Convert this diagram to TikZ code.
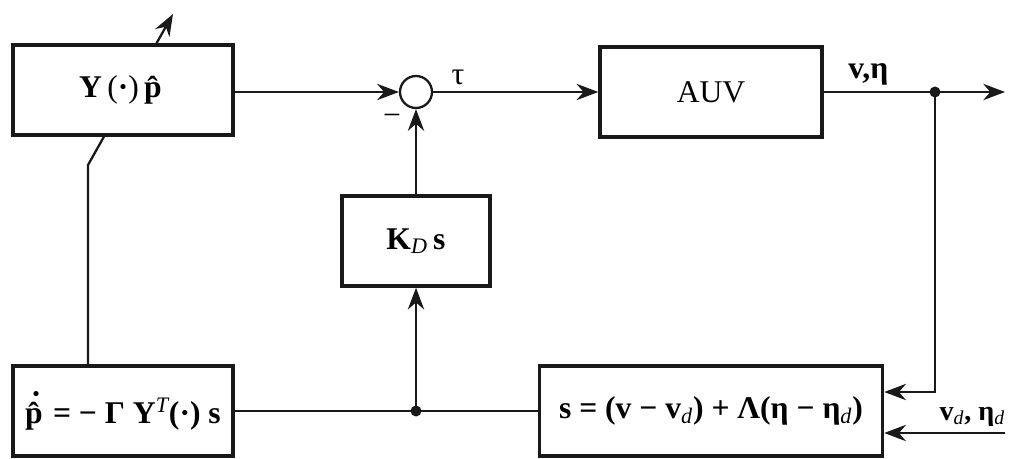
\documentclass[tikz,border=0pt]{standalone}
\usepackage{fontspec}
\setmainfont{Liberation Serif}
\usetikzlibrary{arrows.meta, positioning}
\definecolor{tinta}{RGB}{25,25,25}
\newcommand{\pDotHat}{\textbf{p̂}\llap{\raisebox{0.58em}{\textbf{·}}\hspace{0.2em}}}

\begin{document}
\begin{tikzpicture}[
    x=0.02cm, y=-0.02cm,
    bloco/.style={draw=tinta, fill=white, line width=2pt, minimum height=1.8cm, align=center, font=\fontsize{18}{21}\selectfont},
    soma/.style={draw=tinta, circle, line width=1.3pt, minimum size=0.64cm, inner sep=0pt},
    seta/.style={line width=1.3pt, -{Stealth[scale=1.4]}, draw=tinta},
    linha/.style={line width=1.3pt, draw=tinta},
    rotulo/.style={font=\fontsize{18}{21}\selectfont}
]
    \useasboundingbox (0,0) rectangle (1010,459);

    % Blocos
    \node[bloco, minimum width=4.4cm] (adapt) at (123, 411) {\pDotHat\textbf{\,= − Γ Y}\textsuperscript{\mdseries\itshape T}\textbf{(·) s}};
    \coordinate (dobra) at (88, 165);
    \coordinate (ponta) at (173, 14);
    \draw[seta] (adapt.north -| dobra) -- (dobra) -- (ponta);
    \node[bloco, minimum width=4.4cm] (regr) at (123, 90) {\textbf{Y}\,(\textbf{·})\,\textbf{p̂}};
    \node[soma] (sum) at (416, 92) {};
    \node[bloco, minimum width=4.44cm] (auv) at (711, 92) {AUV};
    \node[bloco, minimum width=2.96cm] (kd) at (416, 241) {\textbf{K}\textsubscript{\mdseries\itshape D}\,\textbf{s}};
    \node[bloco, minimum width=6.86cm] (sbox) at (711, 411) {\textbf{s = (v − v}\textsubscript{\mdseries\itshape d}\textbf{) + Λ(η − η}\textsubscript{\mdseries\itshape d}\textbf{)}};

    % Sinais
    \coordinate (ramo) at (935, 92);
    \coordinate (saida) at (1005, 92);
    \coordinate (refer) at (1005, 433);
    \coordinate (corte) at (kd |- adapt.east);

    \draw[seta] (regr.east |- sum) -- (sum.west);
    \node[rotulo] (menos) at (392, 120) {−};
    \draw[seta] (sum.east) -- node[rotulo, above, pos=0.15] (tau) {τ} (auv.west);
    \draw[linha] (auv.east) -- node[rotulo, above, pos=0.4] (saidalbl) {\textbf{v,η}} (ramo);
    \draw[seta] (ramo) -- (saida);
    \fill[tinta] (ramo) circle[radius=0.11cm];

    % Realimentacao
    \draw[seta] (ramo) |- ([yshift=0.38cm]sbox.east);
    \draw[seta] (refer) -- node[above, pos=0.27, font=\fontsize{16}{18}\selectfont] (reflbl) {\textbf{v}\textsubscript{\mdseries\itshape d}\textbf{, η}\textsubscript{\mdseries\itshape d}} (refer -| sbox.east);
    \draw[linha] (adapt.east) -- (sbox.west);
    \fill[tinta] (corte) circle[radius=0.11cm];
    \draw[seta] (corte) -- (kd.south);
    \draw[seta] (kd.north) -- (sum.south);
\end{tikzpicture}
\end{document}
